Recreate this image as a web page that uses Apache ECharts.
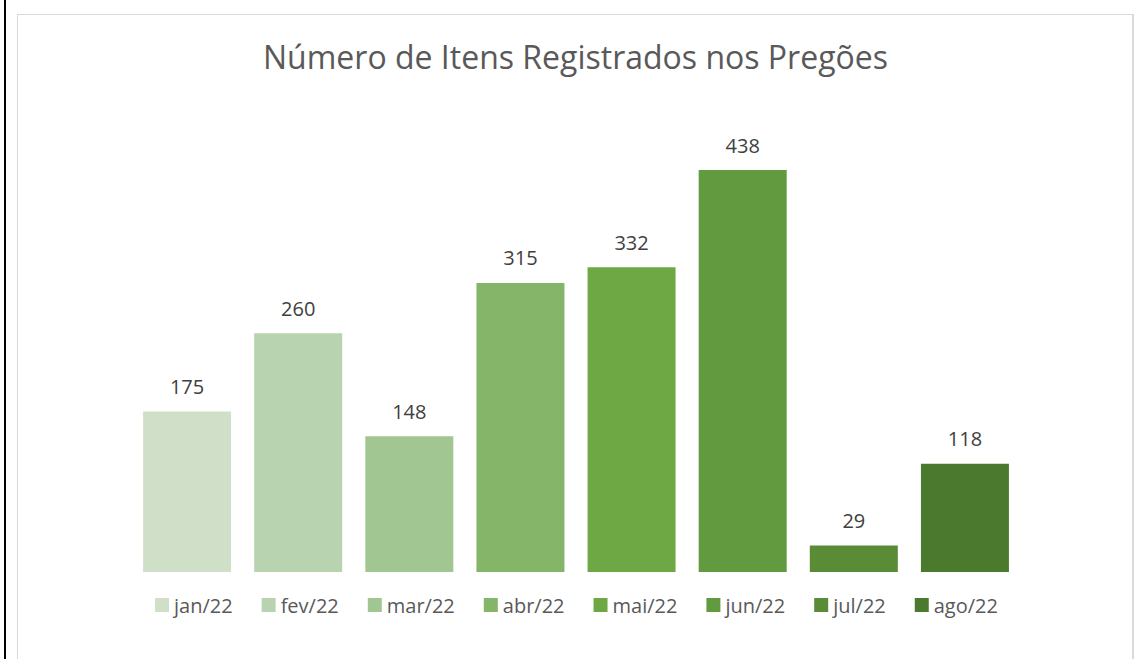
<!DOCTYPE html>
<html>
<head>
<meta charset="utf-8">
<script src="https://cdn.jsdelivr.net/npm/echarts@6/dist/echarts.min.js"></script>
<style>
  html, body { margin: 0; padding: 0; background: #fff; }
  #wrap { position: relative; width: 1135px; height: 659px; overflow: hidden; }
  #edge { position: absolute; left: 4px; top: 0; width: 2px; height: 659px; background: #000; }
  #frame { position: absolute; left: 17px; top: 14px; width: 1114px; height: 660px; border: 1px solid #d9d9d9; border-right-width: 2px; }
  #chart { position: absolute; left: 0; top: 0; width: 1135px; height: 659px; }
</style>
</head>
<body>
<div id="wrap">
  <div id="edge"></div>
  <div id="frame"></div>
  <div id="chart"></div>
</div>
<script>
(function() {
  var months = ['jan/22', 'fev/22', 'mar/22', 'abr/22', 'mai/22', 'jun/22', 'jul/22', 'ago/22'];
  var values = [175, 260, 148, 315, 332, 438, 29, 118];
  var colors = ['#d0e0c8', '#b8d3af', '#a2c692', '#84b568', '#6ea844', '#619a3f', '#5a8c38', '#4b7a2f'];

  var font = 'Open Sans';

  var series = months.map(function(m, i) {
    return {
      name: m,
      type: 'bar',
      stack: 'all',
      barWidth: 88,
      data: months.map(function(_, j) { return j === i ? values[i] : '-'; }),
      itemStyle: { color: colors[i] },
      label: {
        show: true,
        position: 'top',
        distance: 15,
        color: '#404040',
        fontFamily: font,
        fontSize: 20
      }
    };
  });

  var chart = echarts.init(document.getElementById('chart'), null, { renderer: 'svg' });
  chart.setOption({
    animation: false,
    color: colors,
    title: {
      text: 'Número de Itens Registrados nos Pregões',
      left: 258,
      top: 35,
      textStyle: {
        color: '#595959',
        fontFamily: font,
        fontSize: 32,
        fontWeight: 'normal'
      }
    },
    legend: {
      data: months,
      top: 590,
      left: 150,
      itemWidth: 14,
      itemHeight: 14,
      itemGap: 29,
      icon: 'rect',
      textStyle: {
        color: '#595959',
        fontFamily: font,
        fontSize: 20
      }
    },
    grid: {
      left: 131.5,
      right: 1135 - 1020.5,
      top: 170,
      bottom: 87
    },
    xAxis: {
      type: 'category',
      data: months,
      axisLine: { show: false },
      axisTick: { show: false },
      axisLabel: { show: false }
    },
    yAxis: {
      type: 'value',
      min: 0,
      max: 438,
      show: false,
      splitLine: { show: false }
    },
    series: series
  });
})();
</script>
</body>
</html>
